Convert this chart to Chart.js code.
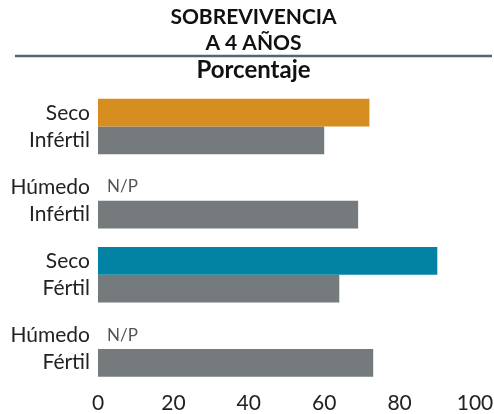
<!DOCTYPE html>
<html>
<head>
<meta charset="utf-8">
<script src="https://cdn.jsdelivr.net/npm/chart.js@4"></script>
<style>
  html, body { margin: 0; padding: 0; background: #fff; }
  #wrap { width: 494px; height: 414px; }
</style>
</head>
<body>
<div id="wrap"><canvas id="graphSurvival"></canvas></div>
<script>
const categories = [
    ['Seco', 'Infértil'],
    ['Húmedo', 'Infértil'],
    ['Seco', 'Fértil'],
    ['Húmedo', 'Fértil']
];
const topValues = [72, null, 90, null];
const topColors = ['#D58D20', '#D58D20', '#0283A3', '#0283A3'];
const grayValues = [60, 69, 64, 73];
const xTicks = [0, 20, 40, 60, 80, 100];
const titleLines = ['SOBREVIVENCIA', 'A 4 AÑOS'];
const unitLabel = 'Porcentaje';
const noDataLabel = 'N/P';

const FONT = "'Lato', 'Noto Sans', sans-serif";

// header: two title lines, rule, unit label
const header = {
    id: 'header',
    afterDraw(chart) {
        const ctx = chart.ctx;
        const cx = 253.5;
        ctx.save();
        ctx.fillStyle = '#111';
        ctx.textAlign = 'center';
        ctx.textBaseline = 'middle';
        ctx.font = 'bold 21px ' + FONT;
        titleLines.forEach((t, i) => ctx.fillText(t, cx, 17 + i * 26));
        ctx.font = 'bold 24px ' + FONT;
        ctx.fillText(unitLabel, cx, 70);

        ctx.strokeStyle = '#4f696c';
        ctx.lineWidth = 2.5;
        ctx.beginPath();
        ctx.moveTo(15, 56);
        ctx.lineTo(492, 56);
        ctx.stroke();
        ctx.restore();
    }
};

// "N/P" where the top bar has no value
const missingLabels = {
    id: 'missingLabels',
    afterDatasetsDraw(chart) {
        const ctx = chart.ctx;
        const meta = chart.getDatasetMeta(0);
        ctx.save();
        ctx.fillStyle = '#555';
        ctx.font = '17px ' + FONT;
        ctx.textAlign = 'left';
        ctx.textBaseline = 'middle';
        topValues.forEach((v, i) => {
            if (v === null) {
                ctx.fillText(noDataLabel, chart.chartArea.left + 9, meta.data[i].y);
            }
        });
        ctx.restore();
    }
};

new Chart(document.getElementById('graphSurvival'), {
    type: 'bar',
    data: {
        labels: categories,
        datasets: [
            {
                data: topValues,
                backgroundColor: topColors,
                categoryPercentage: 0.75,
                barPercentage: 1
            },
            {
                data: grayValues,
                backgroundColor: '#757B7C',
                categoryPercentage: 0.75,
                barPercentage: 1
            }
        ]
    },
    options: {
        indexAxis: 'y',
        responsive: true,
        maintainAspectRatio: false,
        animation: false,
        layout: { padding: { left: 0, right: 19, top: 89.5, bottom: 0 } },
        scales: {
            x: {
                min: 0,
                max: 100,
                afterBuildTicks(scale) {
                    scale.ticks = xTicks.map(v => ({ value: v }));
                },
                afterFit(scale) {
                    scale.height = 28;
                    scale.paddingLeft = 0;
                    scale.paddingRight = 0;
                },
                grid: { display: false, drawTicks: false },
                border: { display: false },
                ticks: {
                    color: '#222',
                    padding: 5,
                    font: { family: FONT, size: 21 }
                }
            },
            y: {
                grid: { display: false, drawTicks: false },
                border: { display: false },
                afterFit(scale) {
                    scale.width = 98;
                    scale.paddingTop = 0;
                    scale.paddingBottom = 0;
                },
                ticks: {
                    color: '#222',
                    padding: 8,
                    font: { family: FONT, size: 21, lineHeight: '27px' }
                }
            }
        },
        plugins: {
            legend: { display: false },
            tooltip: { enabled: false }
        }
    },
    plugins: [header, missingLabels]
});
</script>
</body>
</html>
